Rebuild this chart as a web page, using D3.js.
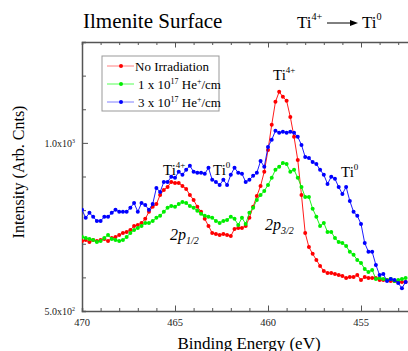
<!DOCTYPE html>
<html>
<head>
<meta charset="utf-8">
<script src="https://cdn.jsdelivr.net/npm/d3@7"></script>
<style>
  body { margin: 0; background: #fff; }
  svg { display: block; }
  svg text { font-family: "Liberation Serif", "DejaVu Serif", serif; }
</style>
</head>
<body>
<div id="chart"></div>
<script>
// binding energy grid (eV)
const energy = [470.0,469.8,469.6,469.4,469.2,469.0,468.8,468.6,468.4,468.2,468.0,467.8,467.6,467.4,467.2,467.0,466.8,466.6,466.4,466.2,
  466.0,465.8,465.6,465.4,465.2,465.0,464.8,464.6,464.4,464.2,464.0,463.8,463.6,463.4,463.2,463.0,462.8,462.6,462.4,462.2,
  462.0,461.8,461.6,461.4,461.2,461.0,460.8,460.6,460.4,460.2,460.0,459.8,459.6,459.4,459.2,459.0,458.8,458.6,458.4,458.2,
  458.0,457.8,457.6,457.4,457.2,457.0,456.8,456.6,456.4,456.2,456.0,455.8,455.6,455.4,455.2,455.0,454.8,454.6,454.4,454.2,
  454.0,453.8,453.6,453.4,453.2,453.0,452.8,452.6];

const noIrradiation = [708,711,705,711,708,711,714,708,717,720,726,732,735,741,753,756,762,774,795,810,
  818,845,860,869,884,881,881,872,863,845,830,810,795,774,753,732,729,726,729,726,
  723,744,747,747,753,777,810,842,872,914,979,1054,1122,1152,1137,1125,1077,1018,949,845,
  732,690,670,652,634,619,613,613,610,607,604,598,601,601,607,592,601,598,598,598,
  592,592,592,589,589,586,586,586];

const dose1e17 = [720,717,714,711,705,708,717,726,714,711,708,711,720,732,741,747,753,762,762,768,
  777,783,795,807,812,810,818,824,821,812,807,798,789,783,780,777,768,762,768,771,
  780,774,756,777,759,792,807,830,845,857,875,896,920,929,940,937,914,920,896,869,
  839,839,804,780,753,762,735,735,717,705,702,693,676,667,652,643,625,616,622,595,
  598,595,592,595,589,592,595,598];

const dose3e17 = [801,777,792,780,768,768,780,780,792,801,795,795,795,807,821,795,821,815,801,818,
  866,854,884,884,899,896,914,905,920,932,914,911,911,908,926,890,884,875,890,875,
  905,926,911,908,884,890,902,911,946,929,988,1009,1036,1030,1033,1030,1033,1030,1018,994,
  958,955,943,937,920,905,878,899,893,869,848,869,827,795,783,759,702,676,676,637,
  607,610,589,595,592,583,568,586];

const seriesNames = ["No Irradiation", "1 x 10|17| He|+|/cm", "3 x 10|17| He|+|/cm"];
const seriesColors = ["#ff0000", "#00ee00", "#0000ff"];
const legendLineColors = ["#ff8080", "#55ff55", "#8080ff"];
const xTicksMajor = [470, 465, 460, 455];
const yTickLabels = [{ v: 500, m: "5.0x10", e: "2" }, { v: 1000, m: "1.0x10", e: "3" }];

const W = 408, H = 351;
const margin = { top: 42, left: 82, bottom: 40 };
const svg = d3.select("#chart").append("svg").attr("width", W).attr("height", H);

const x = d3.scaleLinear().domain([470, 452]).range([margin.left, 416.8]);
const y = d3.scaleLinear().domain([500, 1300]).range([H - margin.bottom, margin.top]);

const series = [noIrradiation, dose1e17, dose3e17].map((vals, i) => ({
  name: seriesNames[i], color: seriesColors[i],
  points: vals.map((v, j) => ({ e: energy[j], v: v }))
}));

svg.append("defs").append("clipPath").attr("id", "plotclip")
  .append("rect").attr("x", margin.left).attr("y", margin.top)
  .attr("width", 416.8 - margin.left).attr("height", y(500) - margin.top);

// axes
const axisColor = "#555";
const minorX = d3.range(470, 451.5, -1);
const xb = svg.append("g").attr("transform", `translate(0,${y(500)})`)
  .call(d3.axisBottom(x).tickValues(minorX).tickSize(-3).tickFormat(""));
const xt = svg.append("g").attr("transform", `translate(0,${y(1300)})`)
  .call(d3.axisTop(x).tickValues(minorX).tickSize(-3).tickFormat(""));
const yl = svg.append("g").attr("transform", `translate(${margin.left},0)`)
  .call(d3.axisLeft(y).tickValues(d3.range(500, 1301, 100)).tickSize(-4).tickFormat(""));
[xb, xt, yl].forEach(g => {
  g.select(".domain").attr("stroke", axisColor).attr("stroke-width", 1.5);
  g.selectAll(".tick line").attr("stroke", axisColor);
});
xb.selectAll(".tick line").filter(d => d % 5 === 0).attr("y2", -5.5);
xt.selectAll(".tick line").filter(d => d % 5 === 0).attr("y2", 5.5);
yl.selectAll(".tick line").filter(d => d % 500 === 0).attr("x2", 6);

svg.append("g").selectAll("text").data(xTicksMajor).join("text")
  .attr("x", d => x(d)).attr("y", y(500) + 15)
  .attr("text-anchor", "middle").attr("font-size", 10.5).attr("fill", "#222")
  .text(d => d);

const yt = svg.append("g").selectAll("text").data(yTickLabels).join("text")
  .attr("x", margin.left - 7).attr("y", d => y(d.v) + 4)
  .attr("text-anchor", "end").attr("font-size", 10).attr("fill", "#222");
yt.append("tspan").text(d => d.m);
yt.append("tspan").attr("dy", -4).attr("font-size", 6).text(d => d.e);

svg.append("text").attr("x", 249).attr("y", 348.5).attr("text-anchor", "middle")
  .attr("font-size", 17).text("Binding Energy (eV)");
svg.append("text").attr("transform", `translate(24,172) rotate(-90)`)
  .attr("text-anchor", "middle").attr("font-size", 16).text("Intensity (Arb. Cnts)");

// header
svg.append("text").attr("x", 83).attr("y", 28).attr("font-size", 21).text("Ilmenite Surface");
function tiLabel(px, py, sup, size) {
  const t = svg.append("text").attr("x", px).attr("y", py).attr("font-size", size);
  t.append("tspan").text("Ti");
  t.append("tspan").attr("dy", -size * 0.45).attr("font-size", size * 0.6).text(sup);
  return t;
}
tiLabel(297, 28, "4+", 17);
tiLabel(362, 28, "0", 17);
svg.append("line").attr("x1", 327).attr("x2", 352).attr("y1", 23).attr("y2", 23).attr("stroke", "#000");
svg.append("path").attr("d", "M350,20 L358,23 L350,26 Z").attr("fill", "#000");

// data
const plot = svg.append("g").attr("clip-path", "url(#plotclip)");
const line = d3.line().x(d => x(d.e)).y(d => y(d.v));
series.forEach(s => {
  plot.append("path").datum(s.points).attr("fill", "none")
    .attr("stroke", s.color).attr("stroke-width", 0.9).attr("d", line);
  plot.append("g").selectAll("circle").data(s.points).join("circle")
    .attr("cx", d => x(d.e)).attr("cy", d => y(d.v)).attr("r", 2)
    .attr("fill", s.color);
});

// annotations
tiLabel(273, 80, "4+", 15);
tiLabel(163, 175, "4+", 15);
tiLabel(213, 175, "0", 15);
tiLabel(341, 177, "0", 15);
function pLabel(px, py, sub) {
  const t = svg.append("text").attr("x", px).attr("y", py).attr("font-size", 16).attr("font-style", "italic");
  t.append("tspan").text("2p");
  t.append("tspan").attr("dy", 4).attr("font-size", 10).text(sub);
}
pLabel(170, 240, "1/2");
pLabel(265, 230, "3/2");

// legend
const lg = svg.append("g");
lg.append("rect").attr("x", 102).attr("y", 56).attr("width", 117).attr("height", 55)
  .attr("fill", "#fff").attr("stroke", "#999");
series.forEach((s, i) => {
  const ly = 66 + i * 18;
  lg.append("line").attr("x1", 107).attr("x2", 134).attr("y1", ly).attr("y2", ly)
    .attr("stroke", legendLineColors[i]).attr("stroke-width", 1);
  lg.append("circle").attr("cx", 121).attr("cy", ly).attr("r", 2).attr("fill", s.color);
  const t = lg.append("text").attr("x", i === 0 ? 135 : 138).attr("y", ly + 4.5).attr("font-size", 13);
  s.name.split("|").forEach((part, k) => {
    const ts = t.append("tspan").text(part);
    if (k % 2 === 1) ts.attr("dy", -5).attr("font-size", 8);
    else if (k > 0) ts.attr("dy", 5);
  });
});
</script>
</body>
</html>
